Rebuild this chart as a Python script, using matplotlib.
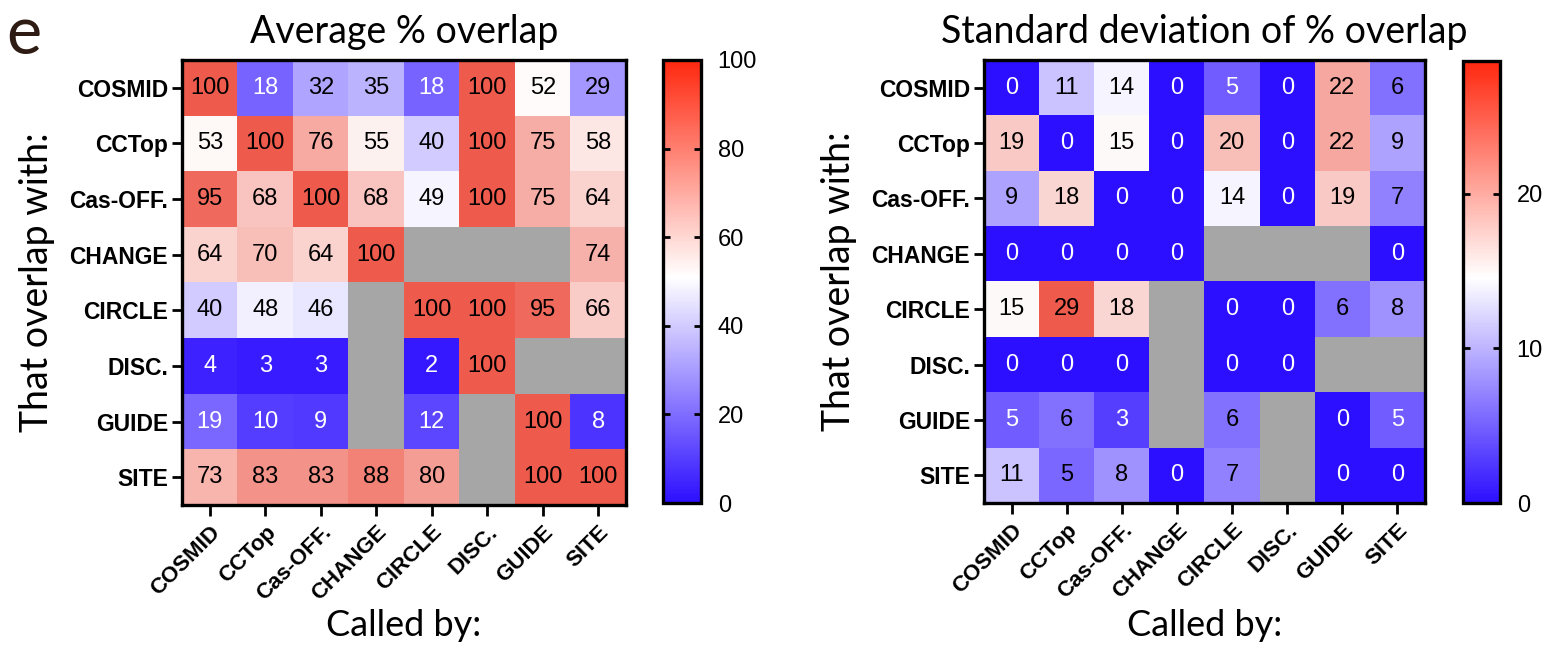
import numpy as np
import matplotlib
matplotlib.use("Agg")
import matplotlib.pyplot as plt
from matplotlib.colors import LinearSegmentedColormap, Normalize
from matplotlib.cm import ScalarMappable

tools = ["COSMID", "CCTop", "Cas-OFF.", "CHANGE", "CIRCLE", "DISC.", "GUIDE", "SITE"]
nan = np.nan

# rows = "that overlap with", cols = "called by"
avg = np.array([
    [100, 18, 32, 35, 18, 100, 52, 29],
    [53, 100, 76, 55, 40, 100, 75, 58],
    [95, 68, 100, 68, 49, 100, 75, 64],
    [64, 70, 64, 100, nan, nan, nan, 74],
    [40, 48, 46, nan, 100, 100, 95, 66],
    [4, 3, 3, nan, 2, 100, nan, nan],
    [18.8, 10, 9, nan, 12, nan, 100, 8],
    [73, 83, 83, 88, 80, nan, 100, 100],
])

sd = np.array([
    [0, 11, 14, 0, 4.8, 0, 22, 6],
    [19, 0, 15, 0, 20, 0, 22, 9],
    [9, 18, 0, 0, 14, 0, 19, 7],
    [0, 0, 0, 0, nan, nan, nan, 0],
    [15, 28.6, 18, nan, 0, 0, 6, 8],
    [0, 0, 0, nan, 0, 0, nan, nan],
    [4.7, 6, 3, nan, 6, nan, 0, 4.8],
    [11, 5.45, 8, 0, 7, nan, 0, 0],
])

avg_ticks = [0, 20, 40, 60, 80, 100]
sd_ticks = [0, 10, 20]

blue = (45/255, 15/255, 1.0)
cell_cmap = LinearSegmentedColormap.from_list(
    "cells", [(0, blue), (0.51, (1, 1, 1)), (1, (238/255, 90/255, 75/255))])
cell_cmap.set_bad("#a6a6a6")
bar_cmap = LinearSegmentedColormap.from_list(
    "bar", [(0, blue), (0.51, (1, 1, 1)), (1, (1.0, 40/255, 15/255))])

W, H = 1552, 647
fig = plt.figure(figsize=(W/100, H/100), dpi=100)

def box(x0, y0, x1, y1):
    return [x0/W, 1 - y1/H, (x1-x0)/W, (y1-y0)/H]

title_font = dict(family=["Lato", "DejaVu Sans"], size=27)
lab_font = ["Liberation Sans", "DejaVu Sans"]


def panel(data, vmax, ticks, hbox, cbox, title):
    ax = fig.add_axes(box(*hbox))
    norm = Normalize(0, vmax)
    ax.imshow(np.ma.masked_invalid(data), cmap=cell_cmap, norm=norm,
              aspect="auto", interpolation="nearest")
    n = len(tools)
    for i in range(n):
        for j in range(n):
            v = data[i, j]
            if np.isnan(v):
                continue
            col = "white" if v / vmax < 0.19 else "black"
            ax.text(j, i, f"{v:.0f}", ha="center", va="center", color=col,
                    fontsize=17, family=lab_font)
    ax.set_xticks(range(n))
    ax.set_yticks(range(n))
    ax.set_xticklabels(tools, rotation=45, ha="right", rotation_mode="anchor",
                       fontsize=16, fontweight="bold", family=lab_font)
    ax.set_yticklabels(tools, fontsize=16.5, fontweight="bold", family=lab_font)
    ax.tick_params(axis="y", length=7, width=2, pad=3)
    ax.tick_params(axis="x", length=8, width=2, pad=4)
    for s in ax.spines.values():
        s.set_linewidth(2.4)
    ax.set_title(title, pad=12, **title_font)
    ax.set_ylabel("That overlap with:", labelpad=10, **title_font)
    # x label placed by hand so its descender stays inside the figure
    xc = (hbox[0] + hbox[2]) / 2 / W
    fig.text(xc, 1 - 636/H, "Called by:", ha="center", va="baseline",
             family=title_font["family"], size=26)

    cax = fig.add_axes(box(*cbox))
    cb = fig.colorbar(ScalarMappable(norm=norm, cmap=bar_cmap), cax=cax, ticks=ticks)
    cb.outline.set_linewidth(2.4)
    cax.tick_params(direction="in", left=True, right=True, length=5, width=2,
                    labelsize=17, pad=12)
    for t in cax.get_yticklabels():
        t.set_family(lab_font)
    return ax


panel(avg, 100, avg_ticks, (182, 60, 626, 505), (663, 60, 701, 503),
      "Average % overlap")
panel(sd, np.nanmax(sd), sd_ticks, (984, 60, 1425, 503), (1463, 61, 1500, 503),
      "Standard deviation of % overlap")

fig.text(6/W, 1 - 54/H, "e", fontsize=48, family=["Lato", "DejaVu Sans"],
         color="#2e1c14", ha="left", va="baseline")

fig.savefig("out.png", dpi=100)
